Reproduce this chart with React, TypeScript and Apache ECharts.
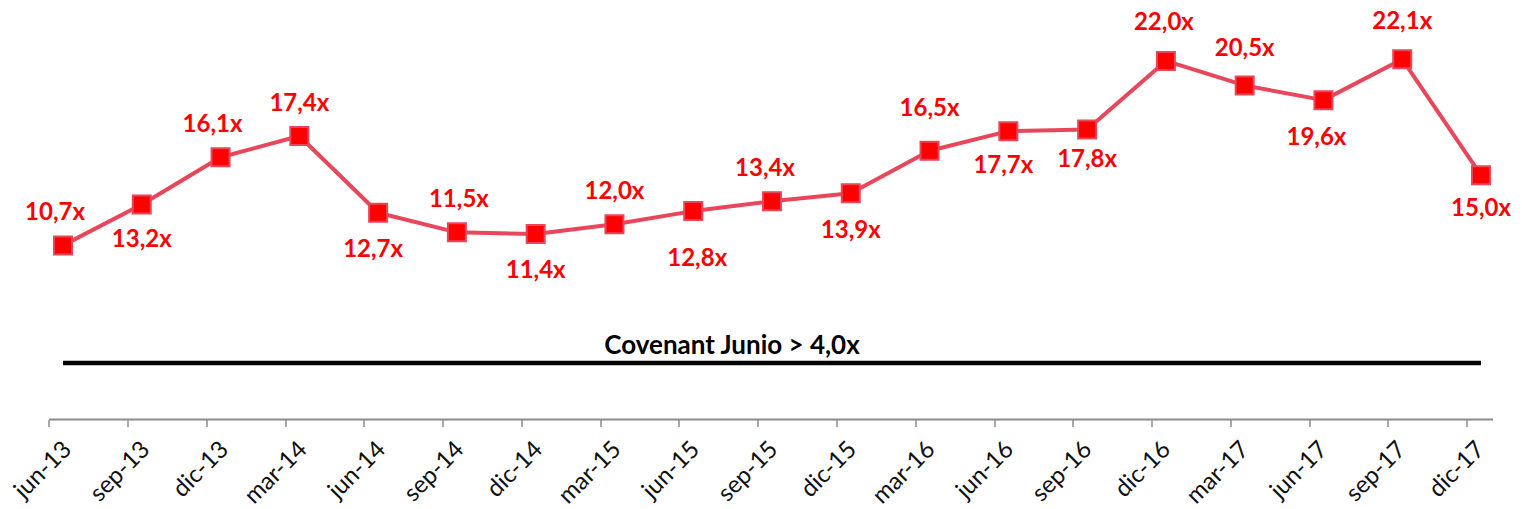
import React, { useEffect, useRef } from 'react';
import * as echarts from 'echarts';

const categories = ['jun-13','sep-13','dic-13','mar-14','jun-14','sep-14','dic-14','mar-15','jun-15','sep-15','dic-15','mar-16','jun-16','sep-16','dic-16','mar-17','jun-17','sep-17','dic-17'];
const coverage = [10.7,13.2,16.1,17.4,12.7,11.5,11.4,12.0,12.8,13.4,13.9,16.5,17.7,17.8,22.0,20.5,19.6,22.1,15.0];
const labelSide = ['top','bottom','top','top','bottom','top','bottom','top','bottom','top','bottom','top','bottom','bottom','top','top','bottom','top','bottom'];
// per-label nudges (style only)
const labelNudge = [[-8,0],[0,-2],[-8,0],[0,0],[-5,0],[2,0],[0,0],[0,0],[4,10],[-7,0],[0,0],[0,-9],[-5,-3],[0,-7],[-2,-5],[0,-4],[-7,0],[0,-5],[0,-4]];
const covenantValue = 4.0;
const covenantLabel = 'Covenant Junio > 4,0x';

const fmt = (v: number) => v.toFixed(1).replace('.', ',') + 'x';

export default function App() {
  const ref = useRef<HTMLDivElement>(null);
  useEffect(() => {
    if (!ref.current) return;
    const chart = echarts.init(ref.current, undefined, { renderer: 'svg' });
    const font = 'Lato, "Open Sans", sans-serif';
    const gridBase = { top: 12, bottom: 89 };
    chart.setOption({
      animation: false,
      backgroundColor: '#ffffff',
      grid: [
        { ...gridBase, left: 63, right: 41 },
        { ...gridBase, left: 49, right: 55 },
        { ...gridBase, left: 66, right: 43 },
      ],
      xAxis: [
        { type: 'category', gridIndex: 0, data: categories, boundaryGap: false, show: false },
        {
          type: 'category', gridIndex: 1, data: categories, boundaryGap: false,
          axisLine: { show: false },
          axisTick: { show: true, length: 7, lineStyle: { color: '#8c8c8c', width: 1.5 } },
          axisLabel: { show: false },
        },
        {
          type: 'category', gridIndex: 2, data: categories, boundaryGap: false,
          axisLine: { show: false },
          axisTick: { show: false },
          axisLabel: { show: true, interval: 0, rotate: 45, margin: 40, fontSize: 24, color: '#111', fontFamily: font },
        },
      ],
      yAxis: [
        { type: 'value', gridIndex: 0, min: 0, max: 25, show: false },
        { type: 'value', gridIndex: 0, min: 0, max: 28.63, show: false },
        { type: 'value', gridIndex: 1, min: 0, max: 25, show: false },
        { type: 'value', gridIndex: 2, min: 0, max: 25, show: false },
      ],
      series: [
        {
          type: 'line', xAxisIndex: 0, yAxisIndex: 1,
          data: categories.map(() => covenantValue),
          symbol: 'none',
          lineStyle: { color: '#000', width: 4.5 },
          silent: true,
          z: 1,
        },
        {
          type: 'line', xAxisIndex: 0, yAxisIndex: 0,
          data: coverage.map((v, i) => ({
            value: v,
            label: { position: labelSide[i], offset: labelNudge[i] },
          })),
          symbol: 'rect',
          symbolSize: 18,
          itemStyle: { color: '#ff0000', borderColor: '#e8465a', borderWidth: 2 },
          lineStyle: { color: '#e8465a', width: 4 },
          label: {
            show: true,
            distance: 13,
            formatter: (p: any) => fmt(p.value),
            color: '#ff0000',
            fontSize: 24,
            fontWeight: 'bold',
            fontFamily: font,
          },
          z: 3,
        },
      ],
      graphic: [
        {
          type: 'line',
          shape: { x1: 49, y1: 419.5, x2: 1493, y2: 419.5 },
          style: { stroke: '#8c8c8c', lineWidth: 2 },
        },
        {
          type: 'text',
          x: 732, y: 344,
          style: {
            text: covenantLabel,
            fill: '#000',
            font: 'bold 26px ' + font,
            textAlign: 'center',
            textVerticalAlign: 'middle',
          },
        },
      ],
    });
    return () => chart.dispose();
  }, []);
  return <div ref={ref} style={{ position: 'absolute', left: 0, top: 0, width: 1522, height: 509 }} />;
}
